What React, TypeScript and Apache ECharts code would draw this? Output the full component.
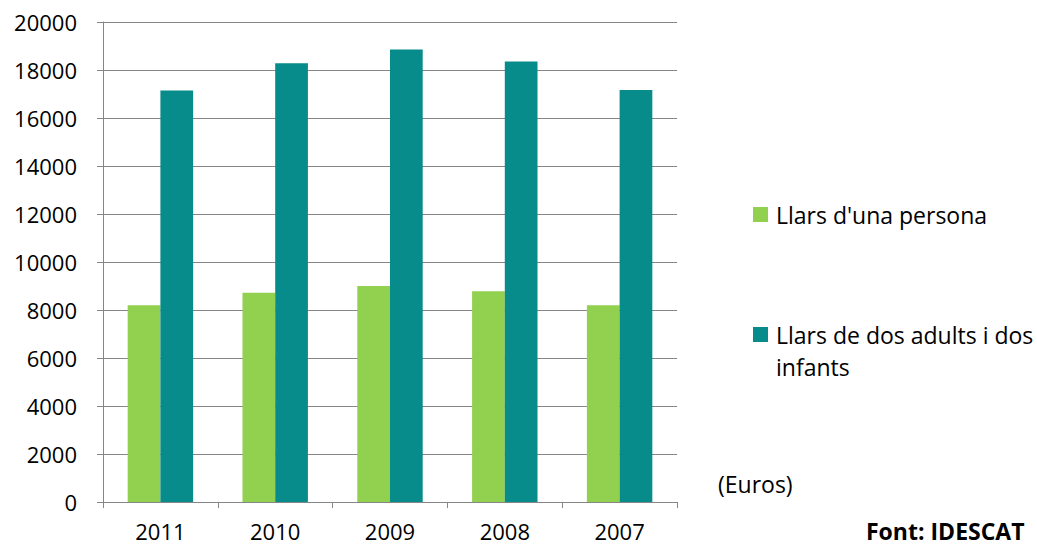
import React, { useEffect, useRef } from "react";
import * as echarts from "echarts";

const categories = ["2011", "2010", "2009", "2008", "2007"];
const seriesNames = ["Llars d'una persona", "Llars de dos adults i dos infants"];
const onePerson = [8200, 8720, 9000, 8780, 8200];
const twoAdultsTwoKids = [17150, 18280, 18850, 18350, 17170];
const colors = ["#92D050", "#078B8B"];
const unitLabel = "(Euros)";
const sourceLabel = "Font: IDESCAT";

const FONT = "'Open Sans', 'Noto Sans', sans-serif";

export default function App() {
  const ref = useRef<HTMLDivElement>(null);
  useEffect(() => {
    if (!ref.current) return;
    const chart = echarts.init(ref.current, undefined, { renderer: "svg" });
    chart.setOption({
      animation: false,
      textStyle: { fontFamily: FONT },
      grid: { left: 103, right: 360, top: 22, bottom: 46, containLabel: false },
      xAxis: {
        type: "category",
        data: categories,
        axisLine: { lineStyle: { color: "#868686", width: 1 } },
        axisTick: { show: true, length: 6, lineStyle: { color: "#868686" }, alignWithLabel: false },
        axisLabel: { color: "#000", fontSize: 22, margin: 18, fontFamily: FONT },
      },
      yAxis: {
        type: "value",
        min: 0,
        max: 20000,
        interval: 2000,
        axisLine: { show: true, lineStyle: { color: "#868686", width: 1 } },
        axisTick: { show: true, length: 6, lineStyle: { color: "#868686" } },
        splitLine: { show: true, lineStyle: { color: "#868686", width: 1 } },
        axisLabel: {
          color: "#000",
          fontSize: 22,
          margin: 26,
          fontFamily: FONT,
          formatter: (v: number) => String(v),
        },
      },
      series: [
        {
          name: seriesNames[0],
          type: "bar",
          data: onePerson,
          itemStyle: { color: colors[0] },
          barGap: "0%",
          barCategoryGap: "43%",
        },
        {
          name: seriesNames[1],
          type: "bar",
          data: twoAdultsTwoKids,
          itemStyle: { color: colors[1] },
          barGap: "0%",
          barCategoryGap: "43%",
        },
      ],
      graphic: [
        { type: "rect", left: 753, top: 207, shape: { width: 15, height: 15 }, style: { fill: colors[0] } },
        {
          type: "text",
          x: 776,
          y: 215,
          style: { text: seriesNames[0], font: `23px ${FONT}`, fill: "#000", verticalAlign: "middle" },
        },
        { type: "rect", left: 753, top: 327, shape: { width: 15, height: 15 }, style: { fill: colors[1] } },
        {
          type: "text",
          x: 776,
          y: 351,
          style: {
            text: "Llars de dos adults i dos\ninfants",
            font: `23px ${FONT}`,
            fill: "#000",
            lineHeight: 32,
            verticalAlign: "middle",
          },
        },
        {
          type: "text",
          x: 718,
          y: 484,
          style: { text: unitLabel, font: `23px ${FONT}`, fill: "#000", verticalAlign: "middle" },
        },
        {
          type: "text",
          x: 866,
          y: 531,
          style: { text: sourceLabel, font: `bold 23px ${FONT}`, fill: "#000", verticalAlign: "middle" },
        },
      ],
    });
    return () => chart.dispose();
  }, []);
  return <div ref={ref} style={{ width: 1037, height: 548, position: "absolute", left: 0, top: 0 }} />;
}
